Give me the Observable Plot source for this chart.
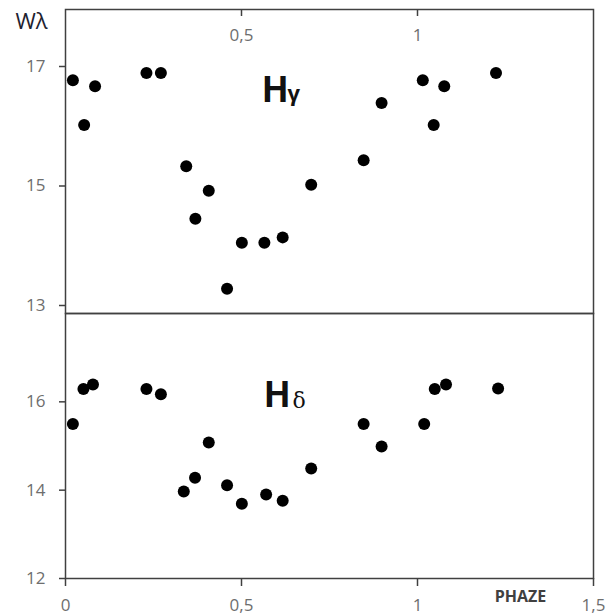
<!DOCTYPE html>
<html><head><meta charset="utf-8">
<script src="https://cdn.jsdelivr.net/npm/d3@7"></script>
<script src="https://cdn.jsdelivr.net/npm/@observablehq/plot@0.6"></script>
<style>
body{margin:0;background:#fff;}
#chart{position:relative;width:615px;height:615px;overflow:hidden;background:#fff;}
#chart svg{position:absolute;left:0;overflow:visible;}
</style></head><body><div id="chart"></div>
<script>
// Hγ panel
const phaseG = [0.021, 0.053, 0.084, 0.230, 0.271, 0.343, 0.369, 0.407, 0.459, 0.501, 0.565, 0.617, 0.698, 0.847, 0.898, 1.015, 1.046, 1.076, 1.223];
const wGamma = [16.77, 16.02, 16.67, 16.89, 16.89, 15.33, 14.45, 14.92, 13.28, 14.05, 14.05, 14.14, 15.02, 15.43, 16.39, 16.77, 16.02, 16.67, 16.89];
// Hδ panel
const phaseD = [0.021, 0.051, 0.078, 0.230, 0.271, 0.336, 0.368, 0.407, 0.459, 0.501, 0.570, 0.617, 0.698, 0.847, 0.898, 1.019, 1.049, 1.081, 1.229];
const wDelta = [15.50, 16.29, 16.39, 16.29, 16.17, 13.97, 14.28, 15.08, 14.11, 13.69, 13.90, 13.76, 14.49, 15.50, 14.99, 15.50, 16.29, 16.39, 16.30];

const topXTicks = [0.5, 1];
const bottomXTicks = [0, 0.5, 1, 1.5];
const gammaYTicks = [13, 15, 17];
const deltaYTicks = [12, 14, 16];
const gammaName = ["H", "γ"];
const deltaName = ["H", "δ"];
const xLabel = "PHAZE";
const yLabel = "Wλ";

const fmt = d => String(d).replace(".", ",");
const axisColor = "#404040";
const labelColor = "#6e6e6e";
const font = '"Open Sans", sans-serif';

const gammaData = phaseG.map((p, i) => ({phase: p, w: wGamma[i]}));
const deltaData = phaseD.map((p, i) => ({phase: p, w: wDelta[i]}));

const topPlot = Plot.plot({
  width: 615, height: 313,
  marginTop: 9, marginBottom: 0, marginLeft: 65, marginRight: 22,
  style: {fontFamily: font, background: "transparent", overflow: "visible"},
  x: {domain: [0, 1.5], axis: null},
  y: {domain: [12.866, 17.954], axis: null},
  marks: [
    Plot.frame({stroke: axisColor, strokeWidth: 1.5}),
    Plot.axisY({ticks: gammaYTicks, tickFormat: fmt, tickSize: 6, tickPadding: 14, fontSize: 17, fill: labelColor, stroke: axisColor, strokeWidth: 1.5, label: null}),
    Plot.tickX(topXTicks, {x: d => d, stroke: axisColor, strokeWidth: 1.5, insetBottom: 297}),
    Plot.text(topXTicks, {x: d => d, text: fmt, frameAnchor: "top", lineAnchor: "middle", dy: 26, fill: labelColor, fontSize: 17}),
    Plot.text([yLabel], {text: d => d, frameAnchor: "top-left", textAnchor: "start", lineAnchor: "middle", dx: -50, dy: 12.5, fontSize: 22, fill: "#1e2230"}),
    Plot.text([gammaName[0]], {text: d => d, frameAnchor: "top-left", textAnchor: "start", lineAnchor: "middle", dx: 197, dy: 81, fontSize: 36, fontWeight: "bold", fontFamily: "Roboto", fill: "#111"}),
    Plot.text([gammaName[1]], {text: d => d, frameAnchor: "top-left", textAnchor: "start", lineAnchor: "middle", dx: 222, dy: 84, fontSize: 22, fontWeight: "bold", fill: "#111"}),
    Plot.dot(gammaData, {x: "phase", y: "w", r: 6, fill: "black", stroke: "none"})
  ]
});
topPlot.style.top = "0px";

const bottomPlot = Plot.plot({
  width: 615, height: 315,
  marginTop: 13, marginBottom: 37, marginLeft: 65, marginRight: 22,
  style: {fontFamily: font, background: "transparent", overflow: "visible"},
  x: {domain: [0, 1.5], axis: null},
  y: {domain: [12, 18], axis: null},
  marks: [
    Plot.frame({stroke: axisColor, strokeWidth: 1.5}),
    Plot.axisY({ticks: deltaYTicks, tickFormat: fmt, tickSize: 6, tickPadding: 14, fontSize: 17, fill: labelColor, stroke: axisColor, strokeWidth: 1.5, label: null}),
    Plot.axisX({ticks: bottomXTicks, tickFormat: fmt, tickSize: 8, tickPadding: 12, fontSize: 17, fill: labelColor, stroke: axisColor, strokeWidth: 1.5, label: null}),
    Plot.text([xLabel], {text: d => d, frameAnchor: "bottom-right", textAnchor: "middle", lineAnchor: "middle", dx: -73, dy: 18, fontSize: 16, fontWeight: "bold", fill: "#404040"}),
    Plot.text([deltaName[0]], {text: d => d, frameAnchor: "top-left", textAnchor: "start", lineAnchor: "middle", dx: 199, dy: 82, fontSize: 36, fontWeight: "bold", fontFamily: "Roboto", fill: "#111"}),
    Plot.text([deltaName[1]], {text: d => d, frameAnchor: "top-left", textAnchor: "start", lineAnchor: "middle", dx: 227, dy: 87.5, fontSize: 22, fontFamily: '"DejaVu Serif", serif', fill: "#111"}),
    Plot.dot(deltaData, {x: "phase", y: "w", r: 6, fill: "black", stroke: "none"})
  ]
});
bottomPlot.style.top = "300px";

const chart = document.getElementById("chart");
chart.appendChild(topPlot);
chart.appendChild(bottomPlot);
</script>
</body></html>
